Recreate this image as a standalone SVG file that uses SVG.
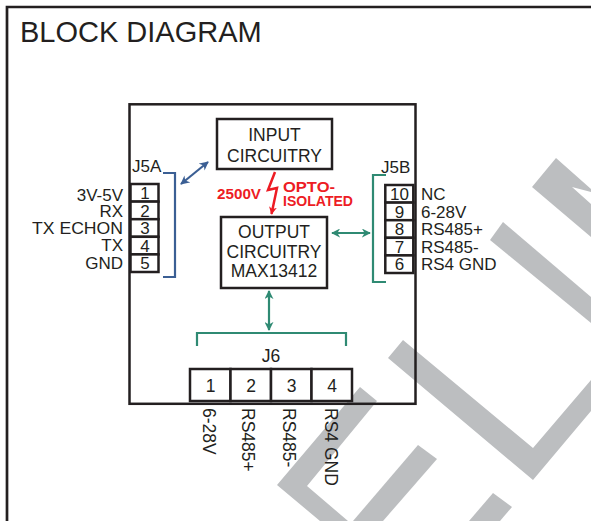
<svg xmlns="http://www.w3.org/2000/svg" width="591" height="521" viewBox="0 0 591 521">
<style>
  text { font-family: "Liberation Sans", Arial, sans-serif; fill: #231f20; font-size: 17.5px; }
  .pin { font-size: 17px; }
  .title { font-size: 29px; }
  .red { fill: #ed1c24; font-weight: bold; font-size: 15.5px; }
  .mid { text-anchor: middle; }
  .end { text-anchor: end; }
  .box { fill: #ffffff; stroke: #231f20; stroke-width: 2.5; }
  .frame { fill: none; stroke: #231f20; stroke-width: 2.7; }
  .wm { fill: #bcbec0; }
  .blue { fill: none; stroke: #3b5f94; stroke-width: 2.2; }
  .green { fill: none; stroke: #2f8a73; stroke-width: 2.2; }
  .bolt { fill: none; stroke: #ed1c24; stroke-width: 2.5; stroke-linejoin: miter; }
</style>
<defs>
  <marker id="ab" viewBox="0 0 10 10" refX="9" refY="5" markerWidth="9" markerHeight="9" markerUnits="userSpaceOnUse" orient="auto-start-reverse">
    <path d="M0,0 L10,5 L0,10 L3,5 z" fill="#3b5f94"/>
  </marker>
  <marker id="ag" viewBox="0 0 10 10" refX="9" refY="5" markerWidth="9" markerHeight="9" markerUnits="userSpaceOnUse" orient="auto-start-reverse">
    <path d="M0,0 L10,5 L0,10 L3,5 z" fill="#2f8a73"/>
  </marker>
  <marker id="ar" viewBox="0 0 10 10" refX="9" refY="5" markerWidth="8" markerHeight="8" markerUnits="userSpaceOnUse" orient="auto">
    <path d="M0,0 L10,5 L0,10 L3,5 z" fill="#ed1c24"/>
  </marker>
</defs>

<g id="watermark">
  <polygon class="wm" points="532,187 556,158 591,189 591,192 572,187 591,204 591,237"/>
  <polygon class="wm" points="503,222 591,297 591,323 490,240"/>
  <polygon class="wm" points="403,340 533,448 591,380 591,411 533,480 388,358"/>
  <polygon class="wm" points="360,387 377,401 307,486 348,521 320,521 277,485"/>
  <polygon class="wm" points="418,445 437,459 383,521 353,521"/>
  <polygon class="wm" points="493,493 512,507 500,521 469,521"/>
</g>

<g id="frame">
  <path class="frame" d="M7,521 V7 H591"/>
  <text class="title" x="20" y="42">BLOCK DIAGRAM</text>
</g>

<g id="module">
  <rect x="129.5" y="104.3" width="286" height="299.5" fill="none" stroke="#231f20" stroke-width="2.5"/>
</g>

<g id="input-circuitry">
  <rect class="box" x="217" y="119" width="115" height="50"/>
  <text class="mid" x="274.5" y="141">INPUT</text>
  <text class="mid" x="274.5" y="162">CIRCUITRY</text>
</g>

<g id="output-circuitry">
  <rect class="box" x="221" y="217" width="106" height="71"/>
  <text class="mid" x="274" y="238">OUTPUT</text>
  <text class="mid" x="274" y="257.5">CIRCUITRY</text>
  <text class="mid" x="274" y="277">MAX13412</text>
</g>

<g id="isolation">
  <text class="red" x="217" y="199" textLength="44" lengthAdjust="spacingAndGlyphs">2500V</text>
  <text class="red" x="283" y="191.5" textLength="52" lengthAdjust="spacingAndGlyphs">OPTO-</text>
  <text class="red" x="283" y="206" textLength="70" lengthAdjust="spacingAndGlyphs">ISOLATED</text>
</g>

<g id="J5A">
  <text class="pin" x="132" y="172">J5A</text>
  <rect class="box" x="130.5" y="184" width="28" height="17.6"/>
  <rect class="box" x="130.5" y="201.6" width="28" height="17.6"/>
  <rect class="box" x="130.5" y="219.2" width="28" height="17.6"/>
  <rect class="box" x="130.5" y="236.8" width="28" height="17.6"/>
  <rect class="box" x="130.5" y="254.4" width="28" height="17.6"/>
  <text class="pin mid" x="145" y="199">1</text>
  <text class="pin mid" x="145" y="216.6">2</text>
  <text class="pin mid" x="145" y="234.2">3</text>
  <text class="pin mid" x="145" y="251.8">4</text>
  <text class="pin mid" x="145" y="269.4">5</text>
  <text class="pin end" x="123" y="200.5">3V-5V</text>
  <text class="pin end" x="123" y="217">RX</text>
  <text class="pin end" x="123" y="234" textLength="91" lengthAdjust="spacingAndGlyphs">TX ECHON</text>
  <text class="pin end" x="123" y="251">TX</text>
  <text class="pin end" x="123" y="269">GND</text>
</g>

<g id="J5B">
  <text class="pin" x="381" y="173">J5B</text>
  <rect class="box" x="385.3" y="185" width="28" height="17.6"/>
  <rect class="box" x="385.3" y="202.6" width="28" height="17.6"/>
  <rect class="box" x="385.3" y="220.2" width="28" height="17.6"/>
  <rect class="box" x="385.3" y="237.8" width="28" height="17.6"/>
  <rect class="box" x="385.3" y="255.4" width="28" height="17.6"/>
  <text class="pin mid" x="399.5" y="200">10</text>
  <text class="pin mid" x="399.5" y="217.6">9</text>
  <text class="pin mid" x="399.5" y="235.2">8</text>
  <text class="pin mid" x="399.5" y="252.8">7</text>
  <text class="pin mid" x="399.5" y="270.4">6</text>
  <text class="pin" x="421" y="200">NC</text>
  <text class="pin" x="421" y="217.6">6-28V</text>
  <text class="pin" x="421" y="235.2">RS485+</text>
  <text class="pin" x="421" y="252.8">RS485-</text>
  <text class="pin" x="421" y="270.4">RS4 GND</text>
</g>

<g id="J6">
  <text class="mid" x="271" y="362">J6</text>
  <rect class="box" x="190" y="369" width="40.5" height="32"/>
  <rect class="box" x="230.5" y="369" width="40.5" height="32"/>
  <rect class="box" x="271" y="369" width="40.5" height="32"/>
  <rect class="box" x="311.5" y="369" width="40.5" height="32"/>
  <text class="mid" x="210.5" y="392">1</text>
  <text class="mid" x="251" y="392">2</text>
  <text class="mid" x="291.5" y="392">3</text>
  <text class="mid" x="332" y="392">4</text>
  <text transform="translate(203,408) rotate(90)">6-28V</text>
  <text transform="translate(242,408) rotate(90)">RS485+</text>
  <text transform="translate(283,408) rotate(90)">RS485-</text>
  <text transform="translate(325,408) rotate(90)">RS4 GND</text>
</g>

<g id="connectors">
  <path class="blue" d="M163,173 H175 V277 H163"/>
  <path class="green" d="M386,175 H373 V282 H386"/>
  <path class="green" d="M197,346 V333 H346 V346"/>
  <line class="blue" x1="181" y1="184" x2="208" y2="162" marker-start="url(#ab)" marker-end="url(#ab)"/>
  <line class="green" x1="332" y1="233" x2="370" y2="233" marker-start="url(#ag)" marker-end="url(#ag)"/>
  <line class="green" x1="269" y1="291" x2="269" y2="330" marker-start="url(#ag)" marker-end="url(#ag)"/>
  <polyline class="bolt" points="275,172 268,190 277,188 271.5,214" marker-end="url(#ar)"/>
</g>
</svg>
